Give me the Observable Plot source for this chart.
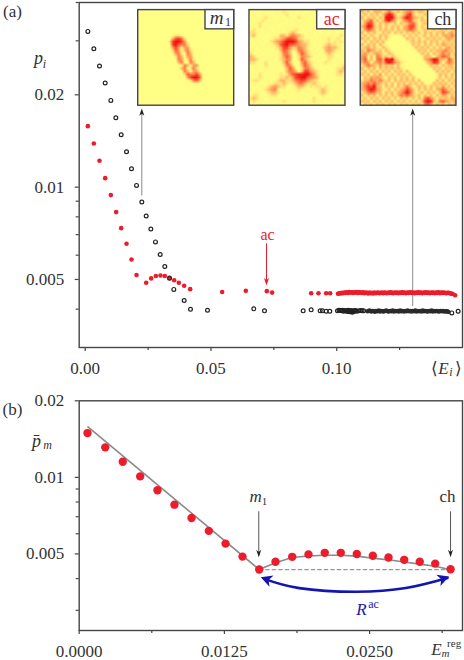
<!DOCTYPE html>
<html><head><meta charset="utf-8">
<script src="https://cdn.jsdelivr.net/npm/d3@7"></script>
<script src="https://cdn.jsdelivr.net/npm/@observablehq/plot@0.6"></script>
<style>html,body{margin:0;padding:0;background:#fff}svg{display:block}</style>
</head><body><div id="chart"></div>
<script>
// ---- panel (a): isolated states
const blackX=[.00105,.00343,.00568,.00794,.01019,.01218,.0143,.01642,.0184,.0204,.0225,.02424,.02609,.02794,.0298,.03165,.03351,.03523,.03934,.04186,.04861,.06703,.07127,.08665,.08983,.09341,.09433,.0958,.09724,.14574,.14826];
const blackY=[.0322,.02827,.02482,.02185,.01918,.01683,.01482,.01305,.01148,.01013,.00894,.00805,.0073,.00663,.00603,.00551,.00505,.00464,.00427,.004,.00397,.00401,.00395,.00395,.00398,.00395,.00395,.00394,.00394,.00389,.00394];
const redX=[.00105,.00343,.00568,.00794,.01019,.01231,.0143,.01642,.0184,.0204,.02424,.02622,.02808,.02993,.03165,.03351,.03537,.03722,.03934,.04173,.05445,.06385,.0722,.07432,.08983,.09274,.0958,.09738,.14706];
const redY=[.01581,.01388,.01219,.0107,.00942,.00829,.00735,.00654,.00581,.00517,.00488,.00504,.00513,.00515,.00513,.00506,.00497,.00488,.00477,.00465,.00455,.00459,.00458,.00453,.00451,.00451,.00451,.00451,.00444];
// ---- panel (a): dense bands
const blackBand=[[.1003,.00395],[.1009,.00397],[.1014,.00396],[.1019,.00395],[.1023,.00397],[.1028,.00394],[.1033,.00396],[.1037,.00395],[.1042,.00393],[.1046,.00397],[.105,.00394],[.1053,.00392],[.1056,.00396],[.1059,.00393],[.1062,.00391],[.1065,.00395],[.1068,.00393],[.1071,.00395],[.1075,.00396],[.108,.00394],[.1088,.00395],[.1096,.00396],[.1101,.00395],[.1107,.00395],[.1123,.00394],[.113,.00396],[.1137,.00393],[.1142,.00395],[.1147,.00394],[.1152,.00392],[.1157,.00395],[.1162,.00394],[.1167,.00396],[.1172,.00393],[.1177,.00395],[.1182,.00394],[.1187,.00393],[.1192,.00395],[.1197,.00396],[.1202,.00394],[.1207,.00393],[.1212,.00395],[.1217,.00394],[.1222,.00396],[.1227,.00393],[.1232,.00395],[.1237,.00394],[.1242,.00395],[.1247,.00393],[.1252,.00396],[.1257,.00394],[.1262,.00395],[.1267,.00393],[.1272,.00395],[.1277,.00394],[.1282,.00396],[.1287,.00394],[.1292,.00395],[.1297,.00393],[.1302,.00395],[.1307,.00394],[.1312,.00396],[.1317,.00393],[.1322,.00395],[.1327,.00394],[.1332,.00395],[.1337,.00393],[.1342,.00396],[.1347,.00394],[.1352,.00395],[.1357,.00394],[.1362,.00393],[.1367,.00395],[.1372,.00394],[.1377,.00396],[.1382,.00393],[.1387,.00395],[.1392,.00394],[.1397,.00395],[.1402,.00394],[.1407,.00393],[.1412,.00395],[.1417,.00394],[.1422,.00395],[.1427,.00393],[.1432,.00394],[.1437,.00394],[.144,.00393],[.1444,.00392]];
const redBand=[[.1005,.00449],[.101,.00451],[.1015,.0045],[.102,.00452],[.1025,.00451],[.103,.00453],[.1035,.00452],[.104,.00454],[.1045,.00452],[.105,.00455],[.1055,.00453],[.106,.00454],[.1065,.00452],[.107,.00454],[.1075,.00453],[.108,.00455],[.1085,.00452],[.109,.00454],[.1095,.00453],[.11,.00452],[.1105,.00454],[.111,.00451],[.1115,.00453],[.112,.00452],[.1125,.0045],[.113,.00453],[.1135,.00451],[.114,.00452],[.1145,.0045],[.115,.00453],[.1155,.00451],[.116,.00452],[.1165,.00453],[.117,.00451],[.1175,.00452],[.118,.00453],[.1185,.00451],[.119,.00453],[.1195,.00452],[.12,.00451],[.1205,.00453],[.121,.00452],[.1215,.00454],[.122,.00452],[.1225,.00451],[.123,.00453],[.1235,.00452],[.124,.00453],[.1245,.00451],[.125,.00453],[.1255,.00452],[.126,.00454],[.1265,.00452],[.127,.00453],[.1275,.00451],[.128,.00453],[.1285,.00452],[.129,.00453],[.1295,.00454],[.13,.00452],[.1305,.00453],[.131,.00451],[.1315,.00453],[.132,.00452],[.1325,.00454],[.133,.00452],[.1335,.00453],[.134,.00451],[.1345,.00453],[.135,.00452],[.1355,.00454],[.136,.00452],[.1365,.00453],[.137,.00451],[.1375,.00453],[.138,.00452],[.1385,.00453],[.139,.00451],[.1395,.00453],[.14,.00452],[.1405,.00454],[.141,.00451],[.1415,.00453],[.142,.00452],[.1425,.00453],[.143,.00452],[.1435,.00451],[.144,.00452],[.1445,.00452],[.145,.00451],[.1455,.00449],[.146,.00449]];
// ---- panel (b)
const meanX=[.000715,.00224,.00375,.00525,.00674,.0082,.00967,.01116,.0126,.01406,.0155,.0169,.01834,.01974,.02114,.02252,.0239,.02528,.02663,.02798,.02932,.03065,.03197];
const meanY=[.01493,.01312,.01152,.01009,.0089,.00781,.00692,.00616,.00549,.00488,.00434,.00466,.00487,.00498,.00505,.00505,.005,.00492,.00484,.00474,.00466,.00458,.00435];
const fitX=[.000755,.0155,.0169,.01834,.01974,.02114,.02252,.0239,.02528,.02663,.02798,.02932,.03065,.03197];
const fitY=[.0158,.00434,.00462,.00484,.00491,.00494,.00494,.0049,.00481,.00474,.00465,.00456,.00447,.00433];
const chordX=[.0155,.03197], chordY=[.00434,.00434];
const rangeX=[.01593,.01894,.02381,.02812,.03171], rangeY=[.00399,.00367,.00355,.00367,.00402];
// ---- inset intensity maps, 32 x 32, 0 = pale yellow, 9 = red
const mapM1=["0","0","0","0","0","0","0","0",
"00000000000122100","00000000000367520","00000000002799741","00000000000796552",
"000000000004741441","000000000002640352","000000000000451153","0000000000002530441",
"0000000000000540251","0000000000000351153","00000000000000053044","00000000000000351252",
"000000000000000531441","000000000000000265574","0000000000000000479961","000000000000000002563","00000000000000000011",
"0","0","0","0","0","0","0"];
const mapAc=["11101110111211101100112111011121","11011100110120101001101210101101","01101201001011012101010110110111","10112101011101110110101121011101",
"01121011101001011101001101101012","11020110100110101010110010111101","12101100011011121011010101010110","22110101111112321101101011011011",
"23101001113324543211100110110121","11010011223467652211010111201210","01101012345799974322111011212121","10110111236896654332101012322111",
"01011101124774235431011023433210","11101010113653125532110113432101","21010101112553013642101012321110","32101010112464012543210101221011",
"33210111012354002642101101211101","22101201011363100463210012101110","11011210101255201364211010110112","01101110110136410255321001011223",
"10110101011135530377432100101232","01021010112124678899642101011221","10121101012232478996543110101111","12210110123322356764322101010111",
"11101011222321235532232110110101","01011123432210123321212212101010","10101234521110112111011232110101","01110123321011011011101232101110",
"12210112210110101110110121010111","23211010111011011011021011101101","12101101011210101101121110110111","11011010110111011011011101011101"];
const mapCh=["32313332353232345323323101313232","23132313697312368312132313132313","31323132999423697432313232323132","23462313795312457321323131323323",
"24773132321313235631232313231232","35983231313231347731313232313231","24653132323132346531232131323123","31323213231323132323132313241342",
"23132132310001313131231323134353","32313231300000132313123232313432","13132323100000012323231323132323","31323132100000001323132313243232",
"23423213210000000132323131313423","32543231321000000013231323345332","34313432132100000001323132353423","45131542313210000000133213465413",
"46231563989321000000134698332642","35413453797432100000013487313542","23543242323131100000001323132331","31323132323232110000000132313232",
"23132313231323131000000013232313","32313241313132313100000001323132","13243432132313231310000001313231","23354353231323232313100013231323",
"34546432313132313231310132323132","35769331323132353123231323242313","34798432131323475313132313464231","23565331323134696312313231376423",
"31323132313235464323132313243132","23132313231313231313257431323243","32313231323132313131379832564324","13231323132313231323256413231323"];
const cells = rows => rows.flatMap(r => [...r.padEnd(32,"0").slice(0,32)].map(Number));

// tick lists
const aMajorY=[.005,.01,.02], aMinorY=[.004,.006,.007,.008,.009,.03,.04];
const aMajorX=[0,.05,.1], aMinorX=[.025,.075,.125];
const bMajorY=[.005,.01,.02], bMinorY=[.003,.004,.006,.007,.008,.009];
const bMajorX=[0,.0125,.025], bMinorX=[.00625,.01875,.03125];

// inset boxes (in panel-a data units)
const insets=[
 {x1:.02107,x2:.05923,lx:.04782,map:mapM1},
 {x1:.06531,x2:.10347,lx:.09222,map:mapAc},
 {x1:.10955,x2:.1476,lx:.13634,map:mapCh}];
const insetTop=.03778, insetBottom=.01843, labelBottom=.0327;

const RED="#ec1c2b", INK="#333", AX="#454545", GREY="#8a8a8a", BLUE="#1414b0";
const stealth = k => ({draw(c,size){const s=Math.sqrt(size);c.moveTo(0,0);c.lineTo(-k*s,s);c.lineTo(0,.72*s);c.lineTo(k*s,s);c.closePath();}});
const narrow=stealth(.34), wide=stealth(.52);
const tx=(x,y,text,o={})=>Plot.text([text],{x:()=>x,y:()=>y,text:d=>d,fill:INK,stroke:"none",...o});
const it={fontStyle:"italic"};
const frame=()=>Plot.frame({stroke:AX,strokeWidth:1.4});
const none=()=>"";
const axes=(mx,nx,my,ny,fx)=>[
 Plot.axisX(mx,{tickSize:4,tickPadding:10,tickFormat:fx,stroke:AX,fill:INK,strokeWidth:1.2,label:null}),
 Plot.axisX(nx,{tickSize:3,tickFormat:none,stroke:AX,strokeWidth:1.2,label:null}),
 Plot.axisY(my,{tickSize:4,tickPadding:11,tickFormat:d=>String(d),stroke:AX,fill:INK,strokeWidth:1.2,label:null}),
 Plot.axisY(ny,{tickSize:3,tickFormat:none,stroke:AX,strokeWidth:1.2,label:null})];
const shaft=(x,y1,y2,color=GREY)=>Plot.line([y1,y2],{x:()=>x,y:d=>d,stroke:color,strokeWidth:1});

const colorScale={type:"linear",domain:[0,1,2,3,4,6,9],range:["#ffff85","#fffa84","#ffe07a","#ffb868","#ff9a55","#ff5a35","#ee1010"]};
// each inset is its own small plot, nested at the place the panel's scales give
const insetMark=b=>(index,scales)=>{
 const vals=cells(b.map);
 const w=scales.x(b.x2)-scales.x(b.x1), h=scales.y(insetBottom)-scales.y(insetTop);
 const s=Plot.plot({width:w,height:h,margin:0,x:{axis:null,domain:[0,32]},y:{axis:null,domain:[32,0]},color:colorScale,
  marks:[Plot.raster({x1:0,x2:32,y1:0,y2:32,width:32,height:32,fill:(x,y)=>vals[Math.floor(y)*32+Math.floor(x)]})]});
 s.setAttribute("x",scales.x(b.x1)); s.setAttribute("y",scales.y(insetTop));
 s.style.width=w+"px"; s.style.height=h+"px"; s.style.maxWidth="none";
 return s;
};

const panelA=Plot.plot({
 width:464,height:380,marginLeft:78.7,marginRight:2,marginTop:2,marginBottom:33,
 style:{fontFamily:"'Liberation Serif',serif",fontSize:"17px",background:"#fff",overflow:"visible"},
 x:{domain:[-.00239,.15]},
 y:{type:"log",domain:[.003,.04]},
 marks:[
  ...axes(aMajorX,aMinorX,aMajorY,aMinorY,d3.format(".2f")),
  ...insets.map(insetMark),
  Plot.rect(insets,{x1:"x1",x2:"x2",y1:()=>insetBottom,y2:()=>insetTop,fill:"none",stroke:AX,strokeWidth:1.4}),
  Plot.rect(insets,{x1:"lx",x2:"x2",y1:()=>labelBottom,y2:()=>insetTop,fill:"#fff",stroke:AX,strokeWidth:1.4}),
  shaft(.0225,.00942,.0175),
  shaft(.1302,.00411,.0175),
  shaft(.07207,.00654,.00495,RED),
  Plot.dot(redX,{x:d=>d,y:(d,i)=>redY[i],r:2.3,fill:RED}),
  Plot.dot(redBand,{x:d=>d[0],y:d=>d[1],r:2.3,fill:RED}),
  Plot.dot(blackX,{x:d=>d,y:(d,i)=>blackY[i],r:1.9,fill:"none",stroke:"#222",strokeWidth:1.2}),
  Plot.dot(blackBand,{filter:d=>d[0]<.112,x:d=>d[0],y:d=>d[1],r:1.9,fill:"none",stroke:"#222",strokeWidth:1.2}),
  Plot.dot(blackBand,{filter:d=>d[0]>=.112,x:d=>d[0],y:d=>d[1],r:2.2,fill:"#2a2a2a",stroke:"none"}),
  Plot.dot([.0225,.1302],{x:d=>d,y:()=>.01806,symbol:narrow,r:4.2,fill:"#222",stroke:"none"}),
  Plot.dot([.07207],{x:d=>d,y:()=>.00478,symbol:narrow,r:4.2,rotate:180,fill:RED,stroke:"none"}),
  tx(.0522,.0355,"m",{...it,fontSize:19}),
  tx(.05676,.03457,"1",{fontSize:12}),
  tx(.098,.0353,"ac",{fill:RED,fontSize:18}),
  tx(.1422,.0353,"ch",{fontSize:18}),
  tx(.0725,.00701,"ac",{fill:RED,fontSize:16}),
  tx(-.0289,.03741,"(a)",{fontSize:17}),
  tx(-.01856,.02629,"p",{...it,fontSize:18}),
  tx(-.01618,.02513,"i",{...it,fontSize:12}),
  tx(.1388,.00256,"⟨",{fontSize:17}),
  tx(.1424,.00256,"E",{...it,fontSize:17}),
  tx(.1454,.00249,"i",{...it,fontSize:12}),
  tx(.1484,.00256,"⟩",{fontSize:17}),
  frame()
 ]});

const panelB=Plot.plot({
 width:464,height:280,marginLeft:78.7,marginRight:2,marginTop:20.3,marginBottom:30,
 style:{fontFamily:"'Liberation Serif',serif",fontSize:"17px",background:"#fff",overflow:"visible"},
 x:{domain:[0,.033]},
 y:{type:"log",domain:[.0025,.02]},
 marks:[
  ...axes(bMajorX,bMinorX,bMajorY,bMinorY,d3.format(".4f")),
  Plot.line(chordX,{x:d=>d,y:(d,i)=>chordY[i],stroke:"#999",strokeWidth:1.3,strokeDasharray:"3.5,3"}),
  Plot.line(fitX,{x:d=>d,y:(d,i)=>fitY[i],stroke:GREY,strokeWidth:1.6}),
  Plot.dot(meanX,{x:d=>d,y:(d,i)=>meanY[i],r:4.2,fill:RED}),
  shaft(.01546,.00733,.00495,"#555"),
  shaft(.03197,.00733,.00495,"#555"),
  Plot.dot([.01546,.03197],{x:d=>d,y:()=>.00485,symbol:narrow,r:4.2,rotate:180,fill:"#222",stroke:"none"}),
  Plot.line(rangeX,{x:d=>d,y:(d,i)=>rangeY[i],curve:"natural",stroke:BLUE,strokeWidth:2.6}),
  Plot.dot([.01563],{x:d=>d,y:()=>.00405,symbol:wide,r:6.5,rotate:290,fill:BLUE,stroke:"none"}),
  Plot.dot([.03185],{x:d=>d,y:()=>.00408,symbol:wide,r:6.5,rotate:70,fill:BLUE,stroke:"none"}),
  tx(.01518,.00837,"m",{...it,fontSize:17}),
  tx(.01595,.00807,"1",{fontSize:11}),
  tx(.03171,.00837,"ch",{fontSize:17}),
  tx(.0243,.00301,"R",{...it,fill:BLUE,fontSize:17}),
  tx(.02534,.00318,"ac",{fill:BLUE,fontSize:12}),
  tx(-.00574,.01854,"(b)",{fontSize:17}),
  tx(-.00368,.01389,"p̄",{...it,fontSize:18}),
  tx(-.00273,.0134,"m",{...it,fontSize:12}),
  tx(.03076,.0021,"E",{...it,fontSize:17}),
  tx(.03228,.00222,"reg",{fontSize:11}),
  tx(.03154,.00203,"m",{...it,fontSize:11}),
  frame()
 ]});

const root=document.getElementById("chart");
root.append(panelA,panelB);
</script>
</body></html>
